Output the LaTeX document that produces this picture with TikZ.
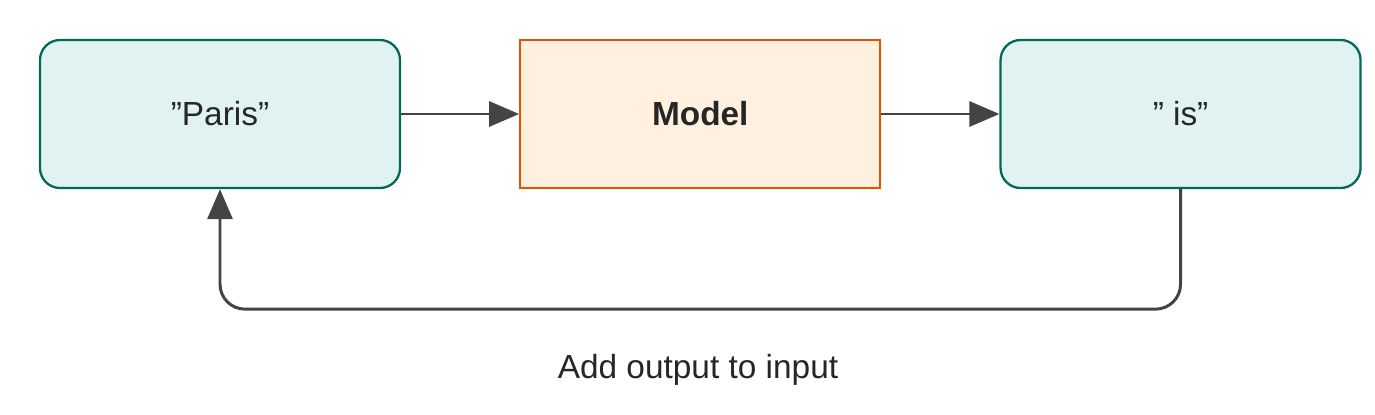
\documentclass[tikz,border=0pt]{standalone}
\usepackage{fontspec}
\setmainfont{Liberation Sans}
\usetikzlibrary{positioning,arrows.meta}
\definecolor{tokfill}{HTML}{E0F2F1}
\definecolor{tokdraw}{HTML}{00695C}
\definecolor{modfill}{HTML}{FFF0DF}
\definecolor{moddraw}{HTML}{E65100}
\definecolor{arr}{HTML}{444444}
\tikzset{
  token/.style={draw=tokdraw, fill=tokfill, line width=1.3pt, rounded corners=0.4cm,
    minimum width=7.2cm, minimum height=2.96cm, font=\fontsize{19}{23}\selectfont, text=black!85},
  model/.style={draw=moddraw, fill=modfill, line width=1.3pt,
    minimum width=7.2cm, minimum height=2.96cm, font=\fontsize{19}{23}\selectfont\bfseries, text=black!85},
  flow/.style={draw=arr, line width=1.7pt, -{Triangle[length=0.6cm,width=0.5cm]}}
}
\begin{document}
\begin{tikzpicture}
    \useasboundingbox (0,0) rectangle (27.5,-8.28);

    % Boxes
    \node[token] (paris) at (4.4,-2.28) {"Paris"};
    \node[model, right=2.36cm of paris] (model) {Model};
    \node[token, right=2.36cm of model] (is) {" is"};

    % Arrows
    \draw[flow] (paris) -- (model);
    \draw[flow] (model) -- (is);
    \draw[flow, rounded corners=0.5cm] (is.south) -- ++(0,-2.4) -| (paris.south);

    % Label
    \node[font=\fontsize{19}{23}\selectfont, text=black!85] (lab) at (13.96,-7.4) {Add output to input};
\end{tikzpicture}
\end{document}
